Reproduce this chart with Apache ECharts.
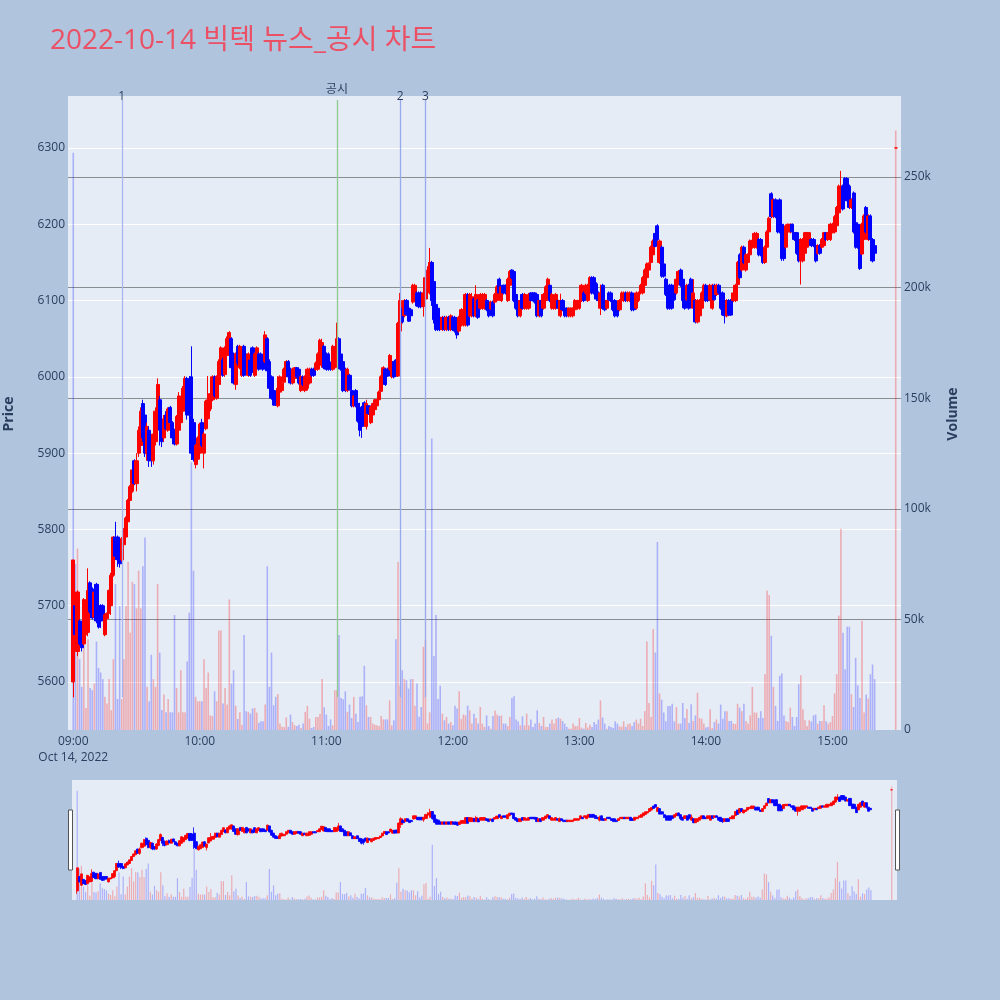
<!DOCTYPE html>
<html><head><meta charset="utf-8">
<script src="https://cdn.jsdelivr.net/npm/echarts@6/dist/echarts.min.js"></script>
<style>html,body{margin:0;padding:0;background:#b0c4de;}#chart{width:1000px;height:1000px;}</style>
</head><body><div id="chart"></div>
<script>
const chartTitle = '2022-10-14 빅텍 뉴스_공시 차트';
const dateLabel = 'Oct 14, 2022';
const hourTicks = ['09:00','10:00','11:00','12:00','13:00','14:00','15:00'];
const sessionOpen = '09:00';
// one candle per minute from 09:00 to 15:20: [open, close, low, high]
const ohlc = [
[5600,5760,5580,5760],[5700,5662,5660,5702],[5640,5718,5634,5720],[5680,5650,5648,5682],[5672,5645,5640,5674],
[5650,5708,5648,5710],[5662,5698,5660,5700],[5665,5720,5660,5749],[5730,5692,5690,5732],[5722,5684,5682,5724],
[5685,5718,5683,5720],[5728,5680,5677,5730],[5700,5672,5670,5702],[5700,5680,5671,5702],[5700,5682,5680,5702],
[5662,5688,5660,5690],[5683,5690,5682,5691],[5690,5720,5688,5721],[5700,5740,5688,5743],[5740,5790,5738,5791],
[5790,5765,5760,5810],[5790,5760,5751,5792],[5770,5755,5750,5775],[5760,5788,5758,5790],[5780,5800,5778,5802],
[5790,5815,5788,5817],[5810,5838,5808,5840],[5838,5856,5835,5858],[5850,5878,5848,5880],[5890,5860,5858,5892],
[5860,5890,5850,5900],
[5900,5930,5895,5935],[5910,5955,5905,5960],[5965,5920,5915,5970],[5950,5900,5895,5960],[5900,5935,5890,5940],
[5930,5890,5882,5935],[5905,5890,5882,5910],[5890,5925,5885,5930],[5915,5955,5910,5960],[5950,5990,5945,5998],
[5970,5930,5910,5975],[5940,5915,5908,5950],[5920,5945,5915,5950],
[5950,5932,5930,5955],[5930,5958,5928,5960],[5960,5940,5938,5962],[5940,5920,5918,5942],[5930,5912,5910,5932],
[5912,5948,5910,5950],[5930,5975,5926,5980],[5940,5968,5938,5972],[5955,5985,5952,5988],[5965,5998,5963,6001],
[5998,5950,5944,6000],[5995,5950,5946,6001],[6000,5900,5891,6040],[5940,5892,5889,5945],[5885,5910,5880,5912],
[5892,5920,5890,5922],[5900,5938,5900,5940],[5940,5910,5908,5945],[5900,5925,5880,5928],[5932,5968,5930,5970],
[5945,5970,5944,6001],[5958,5978,5955,5980],[5970,6000,5968,6002],[6000,5975,5973,6002],[5972,6000,5970,6002],
[5990,6020,5988,6023],[6010,6038,6008,6040],[6022,6002,6000,6025],[6003,6038,6000,6040],[6028,6050,6025,6053],
[6030,6058,6023,6060],[6050,6012,6010,6052],[6030,5992,5990,6032],[5990,6030,5983,6032],[6040,6018,6015,6042],
[6012,6040,6010,6042],[6002,6030,6000,6032],[6040,6002,6000,6042],[6030,6015,6012,6032],[6002,6030,6000,6032],
[6022,6002,6000,6024],
[6038,6006,6005,6040],[6002,6030,6000,6032],[6018,6038,6016,6040],[6030,6010,6008,6032],[6030,6012,6010,6032],
[6022,6010,6008,6024],
[6020,6055,6018,6060],[6050,6008,6005,6052],[6020,5985,5984,6023],[6000,5972,5970,6002],[5982,5963,5962,5985],
[5975,5963,5962,5976],[5962,5985,5960,6001],[5980,6000,5978,6002],[5982,5992,5980,5994],[5993,6010,5992,6012],
[6002,6020,6000,6022],[6020,6000,5998,6022],[6010,5992,5990,6012],[5992,6010,5990,6012],[5998,6012,5996,6013],
[6012,6000,5998,6013],[6010,5992,5990,6012],[5982,6000,5980,6002],[6000,5990,5988,6002],[5982,6000,5980,6002],
[5985,6010,5982,6012],[5992,6010,5990,6012],[6010,6002,6000,6012],[6010,6002,6000,6012],[6010,6018,6008,6020],
[6010,6030,6008,6032],[6025,6048,6022,6050],[6015,6045,6012,6050],[6040,6012,6010,6042],[6030,6010,6008,6032],
[6030,6010,6008,6032],[6018,6010,6008,6020],[6010,6040,6008,6042],[6012,6038,6010,6040],[6020,6050,6018,6071],
[6050,6012,6010,6052],[6030,6010,6008,6032],[6020,5982,5980,6022],[6010,5982,5980,6012],[5982,6010,5980,6012],
[6002,5983,5982,6004],[5982,5962,5960,5984],[5962,5975,5960,5976],[5982,5962,5960,5984],[5965,5942,5940,5967],
[5960,5930,5922,5966],[5955,5935,5920,5962],[5966,5945,5944,5968],[5935,5965,5931,5970],[5962,5952,5950,5963],
[5940,5960,5938,5962],[5950,5965,5948,5966],[5957,5970,5955,5971],[5962,5970,5960,5971],[5970,5980,5968,5982],
[5981,6000,5980,6002],[5998,6012,5996,6014],[6010,5990,5988,6012],[6010,6001,6000,6012],[6010,6028,6008,6030],
[6000,6020,5998,6022],[6020,6000,5998,6021],[6022,6001,6000,6023],[6001,6070,6000,6072],[6060,6100,6036,6110],
[6090,6072,6070,6095],[6080,6100,6078,6102],[6100,6082,6080,6102],[6090,6073,6072,6092],[6088,6080,6078,6090],
[6098,6120,6096,6122],[6100,6120,6098,6122],[6110,6093,6092,6112],[6110,6092,6090,6112],[6110,6092,6090,6112],
[6092,6110,6079,6112],[6102,6130,6100,6132],[6125,6140,6120,6145],
[6110,6150,6108,6169],[6150,6100,6093,6152],[6125,6075,6070,6130],[6095,6062,6060,6100],[6090,6062,6060,6092],
[6078,6062,6060,6080],[6062,6078,6060,6080],[6078,6062,6060,6080],[6062,6078,6060,6080],[6078,6062,6060,6080],
[6062,6080,6060,6082],[6078,6062,6060,6080],
[6078,6060,6058,6080],[6075,6055,6050,6078],[6060,6078,6058,6080],[6068,6088,6066,6090],[6068,6088,6066,6090],
[6068,6108,6066,6110],[6108,6068,6066,6110],[6080,6108,6078,6110],[6080,6105,6078,6110],[6102,6080,6078,6104],
[6080,6108,6078,6120],[6100,6078,6076,6102],[6090,6108,6088,6110],[6090,6108,6088,6110],[6090,6108,6088,6110],
[6100,6088,6086,6102],[6098,6080,6078,6100],[6089,6098,6088,6100],[6098,6080,6078,6100],[6098,6108,6096,6110],
[6100,6118,6098,6120],[6128,6110,6108,6130],[6100,6118,6098,6120],[6120,6110,6108,6121],[6120,6110,6108,6121],
[6100,6128,6098,6130],[6120,6138,6118,6140],[6140,6130,6128,6141],[6138,6100,6098,6140],[6108,6090,6088,6110],
[6100,6080,6078,6101],[6080,6100,6078,6101],[6108,6090,6088,6110],[6090,6108,6088,6110],[6090,6100,6088,6101],
[6090,6108,6088,6110],[6110,6100,6099,6111],[6110,6100,6099,6111],[6110,6098,6096,6111],[6108,6080,6078,6110],
[6080,6100,6078,6101],[6100,6080,6078,6101],[6090,6108,6088,6110],[6100,6118,6098,6120],[6110,6128,6108,6130],
[6120,6100,6098,6121],[6090,6108,6088,6110],[6090,6100,6088,6101],[6090,6108,6088,6110],[6100,6090,6088,6101],
[6080,6100,6078,6109],
[6100,6088,6086,6102],[6090,6080,6078,6092],[6090,6080,6078,6091],[6080,6090,6078,6091],[6080,6090,6078,6091],
[6080,6090,6078,6091],[6088,6100,6086,6102],[6090,6100,6088,6101],[6090,6100,6088,6101],[6100,6120,6098,6122],
[6110,6100,6098,6112],[6110,6120,6108,6122],[6100,6120,6098,6122],[6110,6130,6108,6132],[6130,6110,6108,6132],
[6130,6110,6108,6132],[6122,6102,6100,6124],[6110,6100,6098,6112],[6090,6110,6081,6121],[6120,6090,6088,6122],
[6100,6088,6086,6102],[6090,6100,6088,6101],[6110,6101,6100,6112],[6110,6100,6098,6112],[6100,6088,6086,6102],
[6100,6080,6078,6102],[6090,6080,6078,6092],[6088,6100,6086,6102],[6100,6110,6098,6112],[6100,6110,6098,6112],
[6110,6100,6098,6112],[6100,6110,6098,6112],[6100,6110,6098,6112],[6110,6088,6086,6112],[6100,6088,6086,6102],
[6090,6110,6088,6112],[6100,6110,6098,6112],[6110,6120,6108,6122],[6110,6130,6108,6132],[6120,6140,6118,6142],
[6130,6148,6128,6150],[6140,6149,6138,6150],[6150,6170,6148,6172],[6160,6178,6158,6180],[6188,6171,6170,6190],
[6198,6180,6178,6200],[6150,6178,6148,6180],[6170,6132,6130,6172],[6148,6132,6130,6150],
[6128,6108,6106,6130],[6120,6090,6088,6122],[6120,6090,6088,6122],[6120,6090,6088,6122],[6120,6101,6100,6122],
[6110,6128,6108,6130],[6121,6138,6120,6140],[6140,6120,6118,6142],[6128,6100,6090,6130],[6110,6090,6088,6112],
[6101,6120,6100,6122],[6120,6090,6088,6122],[6128,6101,6100,6130],[6090,6110,6088,6128],[6100,6072,6070,6102],
[6072,6100,6070,6102],[6080,6100,6078,6102],[6090,6110,6088,6112],[6100,6120,6098,6122],[6120,6100,6098,6122],
[6110,6100,6098,6112],[6101,6120,6100,6122],[6090,6120,6088,6122],[6120,6101,6100,6122],[6108,6120,6106,6122],
[6120,6110,6108,6122],[6110,6090,6088,6112],[6110,6081,6080,6112],[6100,6080,6070,6102],[6080,6100,6078,6102],
[6100,6081,6080,6102],[6100,6081,6080,6102],[6100,6110,6098,6112],[6100,6120,6098,6122],[6121,6150,6120,6152],
[6160,6130,6128,6162],[6140,6170,6138,6172],[6170,6150,6148,6172],[6140,6160,6138,6162],[6150,6160,6148,6162],
[6160,6178,6158,6180],[6170,6179,6168,6180],[6170,6188,6168,6190],[6170,6188,6168,6190],[6180,6160,6158,6182],
[6180,6160,6158,6182],[6160,6150,6148,6162],[6150,6170,6148,6172],[6170,6190,6168,6192],[6190,6208,6188,6210],
[6240,6210,6208,6242],[6210,6232,6208,6234],[6232,6210,6208,6234],[6230,6190,6188,6232],
[6232,6190,6188,6234],[6200,6155,6152,6202],[6189,6155,6152,6190],[6170,6198,6168,6200],[6190,6200,6188,6201],
[6190,6200,6188,6201],[6200,6190,6188,6201],[6189,6180,6178,6190],[6189,6162,6160,6190],[6180,6152,6150,6182],
[6152,6180,6121,6182],[6152,6180,6150,6182],[6162,6189,6160,6190],[6170,6189,6168,6190],[6180,6189,6178,6190],
[6180,6172,6170,6182],[6180,6172,6170,6182],[6172,6152,6150,6174],[6162,6172,6160,6174],[6172,6162,6160,6174],
[6170,6180,6168,6182],[6172,6189,6170,6190],[6189,6180,6178,6190],[6180,6189,6178,6190],[6180,6200,6178,6202],
[6189,6200,6188,6202],[6190,6210,6188,6212],[6198,6222,6196,6224],[6215,6250,6210,6252],[6231,6250,6230,6270],
[6250,6220,6218,6252],[6260,6231,6229,6262],[6260,6232,6230,6262],[6250,6222,6220,6252],[6222,6232,6220,6234],
[6241,6190,6188,6243],[6202,6170,6168,6204],[6200,6170,6168,6202],[6180,6142,6140,6182],[6161,6200,6160,6202],
[6180,6211,6178,6213],[6222,6190,6188,6224],[6180,6211,6178,6213],[6211,6180,6170,6213],[6180,6152,6150,6182],
[6172,6162,6160,6174]
];
// volume per minute (thousand shares), same minutes as ohlc
const volumeK = [
261,75,82,32,19.5,41,10,41,19,18,
21,40,28,26,23,15,12,23,9,32,
66,14,56,14,32,56,76,44,67,66,
55,72,55,74,87,19.5,13,34,23,19.5,
66,35,9,16,8,14,8,8,52,19,
8,27,8,8,31,53,121,72,15,13,
13,13,32,19,26,6.6,6.3,17.5,13,45,
45,12,19,11.5,59,21,27,11,5,8,
2.4,43,8.5,8.2,7.4,9.7,10,7.9,3.3,3.9,
3.9,11.5,74,19.5,35,11.2,15,16.3,2.9,1.5,
1.4,5.7,1.4,7,3.6,2.1,1.8,2.4,0.9,2.9,
8.2,10.9,5.1,0.9,1.4,5.9,5.9,7.4,23,10.3,
7,1.8,4.8,2.1,18,18,43,14.5,13.9,17.5,
8.2,11.5,5.4,15,7.4,3.6,15,15.3,29,11.2,
5.9,5.9,2.9,2.4,2.1,1.8,6.3,4.8,4.8,4.8,
13.4,2.1,4.4,41,76,20,27,23,22.5,18.7,
23,23,11,21,6,10.4,37.6,40.6,3,8,
131.8,33.5,52,14,20,7.4,4.4,5.9,2.9,3.6,
2.1,11,9.7,17.5,5,7,6.6,11,8.9,2.9,
7.4,5.4,2.9,10.4,2.9,1.4,6.6,
1.8,0.6,6.3,8.8,7,6.3,6.6,2.9,2.9,1.8,
5.9,14.5,15.3,4.8,3.9,2.1,6.2,2.1,7.4,2.1,
4.8,1.4,2.9,8.9,3.2,1.8,5.9,1.4,1.4,
2.9,4.7,2.9,5.1,5.6,5.1,4.1,2.9,1.4,0.6,
0.6,2.9,1.8,1.8,5.4,1.1,0.6,3.2,1.1,2.4,
1.4,3.6,2.6,4.7,13.4,5.6,2.9,0.6,1.8,1.4,
0.9,3.9,2.9,1.7,1.5,3.9,1.4,2.6,2.9,
1.8,3.6,4.7,2.9,5.1,1.8,8.6,40,12.2,5.9,
45.6,35,85,
16.5,13.7,7.9,3.9,10.9,10.9,11.9,3.9,10.4,2.9,
2.9,12.2,5.4,9.5,3.2,11.6,4.1,6.6,16.9,5.4,
5.1,2.9,1.1,1.4,9.4,0.9,3.6,4.8,2.9,11.5,
5.1,8.5,8.5,4.1,4.1,2.9,2.7,11.9,10.1,8.5,
11.9,4.1,2.9,6.6,19.5,7.9,7.9,5.4,8.5,5.4,
25.2,63,61,42.6,19.5,10.9,4.1,24.5,25.5,6.6,
4.1,3.6,10.1,5.9,1.8,5.9,20.7,24.8,9.4,4.4,
1.8,4.4,3.9,6.6,7,2.9,4.1,4.1,11.2,3.9,
2.9,3.6,6.3,16.5,25.2,51.7,91,
44,27.5,46.7,46.7,16.2,10.4,32.6,20.2,14.5,49.4,7.9,16,14.2,25.2,29.6,23
];
const auctionTime = '15:30';
const auctionOhlc = [6300,6300,6300,6300];
const auctionVolumeK = 271;
const markerTimes = ['09:23','11:05','11:35','11:47'];
const markerLabels = ['1','공시','2','3'];
const markerSpan = [5580, 6363];
const volumeTicksK = [0,50,100,150,200,250];

// ---- build ----
const toMin = s => { const p = s.split(':'); return (+p[0])*60 + (+p[1]); };
const toHHMM = t => String(Math.floor(t/60)).padStart(2,'0') + ':' + String(t%60).padStart(2,'0');
const openMin = toMin(sessionOpen);
const cats = [];
for (let t = openMin - 2; t <= toMin(auctionTime) + 2; t++) cats.push(toHHMM(t));

const rows = ohlc.map((d, i) => ({ t: toHHMM(openMin + i), o: d[0], c: d[1], l: d[2], h: d[3], v: volumeK[i] }));
rows.push({ t: auctionTime, o: auctionOhlc[0], c: auctionOhlc[1], l: auctionOhlc[2], h: auctionOhlc[3], v: auctionVolumeK });

const UP = '#ff0000', DOWN = '#0000ff';
const VUP = 'rgba(255,0,0,0.27)', VDOWN = 'rgba(0,0,255,0.25)';
const candleData = rows.map(r => [r.t, r.o, r.c, r.l, r.h]);
const volData = rows.map((r, i) => {
  const up = i === 0 ? false : (r.c > r.o || (r.c === r.o && r.c > rows[i - 1].c));
  return { value: [r.t, r.v], itemStyle: { color: up ? VUP : VDOWN } };
});

const markerColors = { '1': '#aab4ee', '공시': '#8fca8f', '2': '#98a9ec', '3': '#98a9ec' };
const markerDist = { '1': -3, '공시': 4, '2': -3, '3': -3 };
const FONT = '"Open Sans","Noto Sans CJK KR",sans-serif';
const TXT = '#2a3f5f';
const markLineData = markerTimes.map((t, i) => [
  { coord: [t, markerSpan[0]], lineStyle: { color: markerColors[markerLabels[i]], width: 1.3, type: 'solid' },
    label: { show: true, position: 'end', formatter: markerLabels[i], distance: markerDist[markerLabels[i]],
             color: TXT, fontSize: 12, fontFamily: FONT } },
  { coord: [t, markerSpan[1]] }
]);

const chart = echarts.init(document.getElementById('chart'), null, { renderer: 'canvas' });
chart.setOption({
  animation: false,
  backgroundColor: '#b0c4de',
  grid: [
    { left: 68, right: 99, top: 71.7, bottom: 241.7 },
    { left: 68, right: 99, top: 96, bottom: 270, show: true, backgroundColor: '#e5ecf6', borderWidth: 0 },
    { left: 72, right: 103, top: 780, bottom: 100, show: true, backgroundColor: '#e5ecf6', borderWidth: 0 }
  ],
  xAxis: [
    { gridIndex: 0, type: 'category', data: cats, show: false },
    { gridIndex: 1, type: 'category', data: cats,
      axisLine: { show: false }, axisTick: { show: false }, splitLine: { show: false },
      axisLabel: { interval: (idx, val) => hourTicks.indexOf(val) >= 0,
        formatter: v => v === hourTicks[0] ? v + '\n' + dateLabel : v,
        color: TXT, fontSize: 12, fontFamily: FONT, margin: 4, lineHeight: 16, hideOverlap: false } },
    { gridIndex: 2, type: 'category', data: cats, show: false }
  ],
  yAxis: [
    { gridIndex: 0, type: 'value', position: 'left', min: 5500, max: 6400, interval: 100,
      axisLine: { show: false }, axisTick: { show: false },
      axisLabel: { color: TXT, fontSize: 12, fontFamily: FONT, margin: 3,
        formatter: v => (v > 5500 && v < 6400) ? String(v) : '' },
      splitLine: { show: true, showMinLine: false, showMaxLine: false, lineStyle: { color: '#ffffff', width: 1 } } },
    { gridIndex: 1, type: 'value', position: 'right', min: 0, max: 286.6, interval: 50,
      axisLine: { show: false }, axisTick: { show: false },
      axisLabel: { color: TXT, fontSize: 12, fontFamily: FONT, margin: 3,
        formatter: v => volumeTicksK.indexOf(v) >= 0 ? (v === 0 ? '0' : v + 'k') : '' },
      splitLine: { show: true, showMinLine: false, showMaxLine: false, lineStyle: { color: '#8a8d92', width: 1.2 } } },
    { gridIndex: 2, type: 'value', min: 5537.1, max: 6368.1, show: false },
    { gridIndex: 2, type: 'value', min: 0, max: 286.6, show: false }
  ],
  series: [
    { type: 'candlestick', xAxisIndex: 0, yAxisIndex: 0, data: candleData, encode: { x: 0, y: [1, 2, 3, 4] },
      barWidth: 3.6,
      itemStyle: { color: UP, color0: DOWN, borderColor: UP, borderColor0: DOWN, borderColorDoji: UP, borderWidth: 1 },
      markLine: { silent: true, symbol: ['none', 'none'], animation: false, data: markLineData } },
    { type: 'bar', xAxisIndex: 1, yAxisIndex: 1, data: volData, barWidth: 1.6 },
    { type: 'candlestick', xAxisIndex: 2, yAxisIndex: 2, data: candleData, encode: { x: 0, y: [1, 2, 3, 4] },
      barWidth: 2.6,
      itemStyle: { color: UP, color0: DOWN, borderColor: UP, borderColor0: DOWN, borderColorDoji: UP, borderWidth: 0.8 } },
    { type: 'bar', xAxisIndex: 2, yAxisIndex: 3, data: volData, barWidth: 1.2 }
  ],
  graphic: [
    { type: 'text', left: 50, top: 27, style: { text: chartTitle, font: '28px ' + FONT, fill: '#eb5064' } },
    { type: 'text', x: 9, y: 414, rotation: Math.PI / 2,
      style: { text: 'Price', font: 'bold 14px ' + FONT, fill: TXT, align: 'center', verticalAlign: 'middle' } },
    { type: 'text', x: 953, y: 414, rotation: Math.PI / 2,
      style: { text: 'Volume', font: 'bold 14px ' + FONT, fill: TXT, align: 'center', verticalAlign: 'middle' } },
    { type: 'rect', shape: { x: 68.5, y: 810, width: 4, height: 60 }, style: { fill: '#ffffff', stroke: '#555', lineWidth: 1 } },
    { type: 'rect', shape: { x: 895.5, y: 810, width: 4, height: 60 }, style: { fill: '#ffffff', stroke: '#555', lineWidth: 1 } }
  ]
});
</script></body></html>
